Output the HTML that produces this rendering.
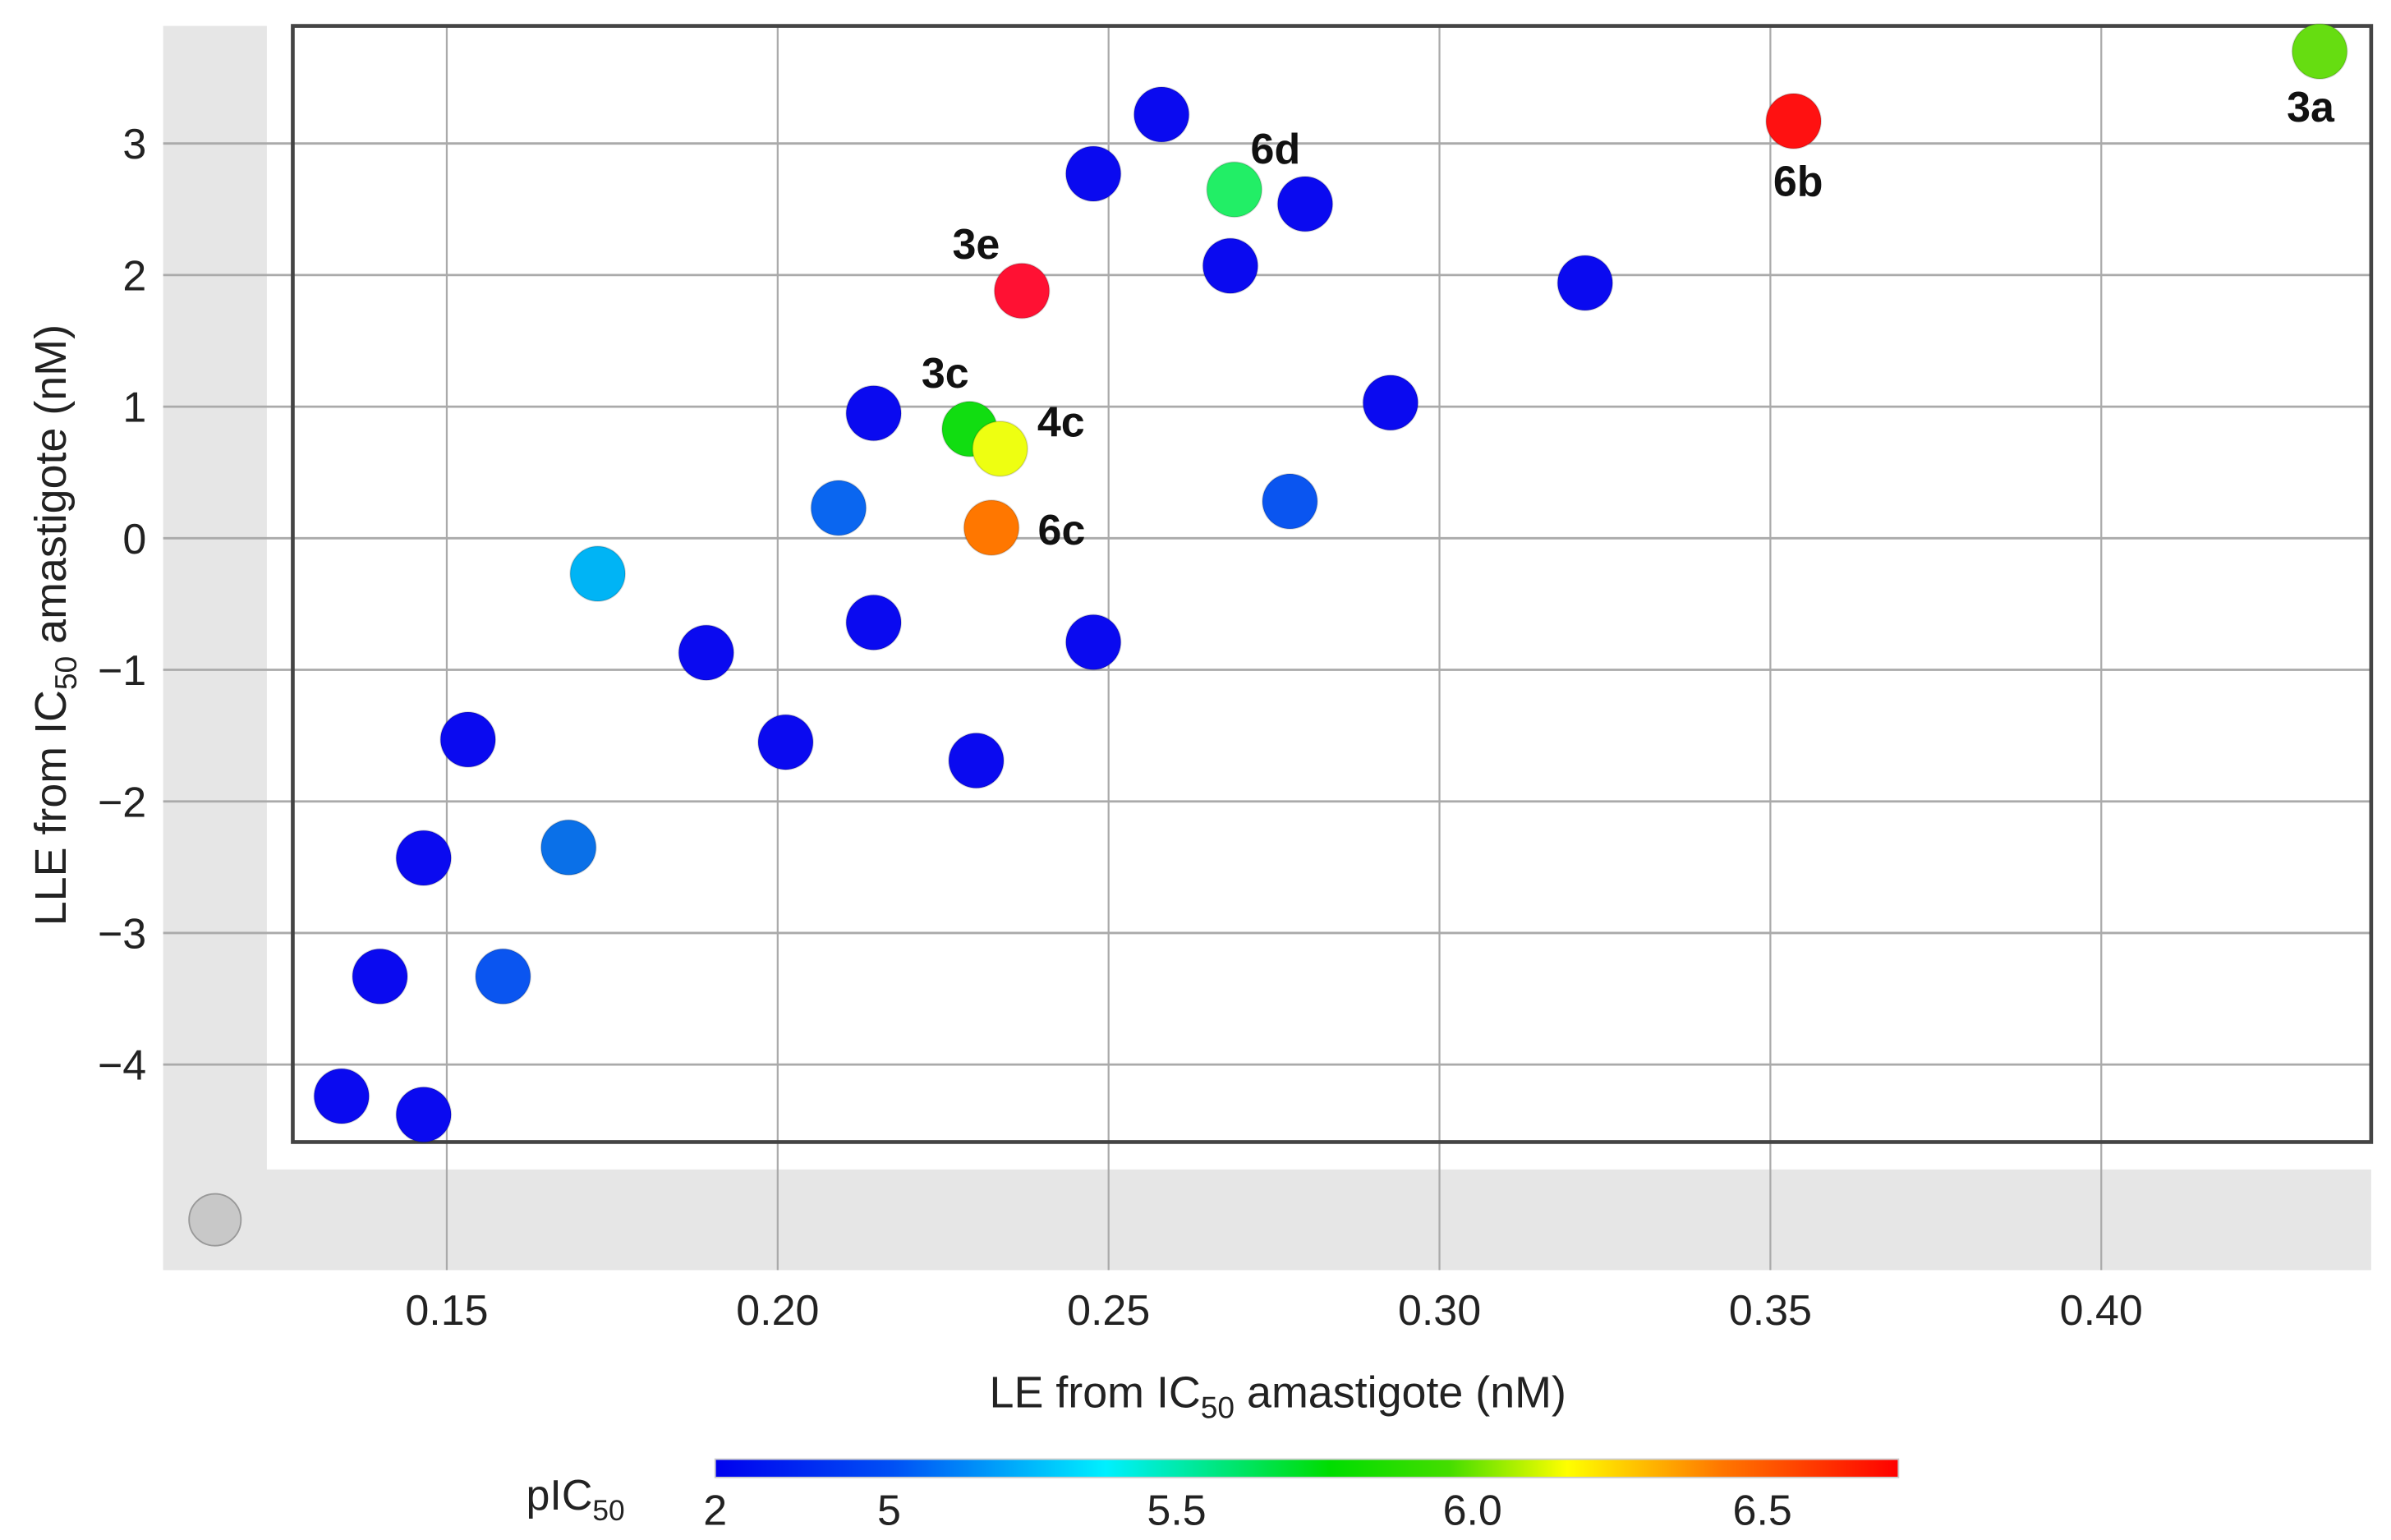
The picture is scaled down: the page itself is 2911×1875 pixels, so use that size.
<!DOCTYPE html>
<html><head><meta charset="utf-8"><style>
html,body{margin:0;padding:0;background:#fff}
svg{display:block;font-family:"Liberation Sans",sans-serif}
</style></head><body>
<svg id="chart" width="2911" height="1875" viewBox="0 0 1568 1010" preserveAspectRatio="none" xmlns="http://www.w3.org/2000/svg">
<defs>
<linearGradient id="cb" x1="0" x2="1" y1="0" y2="0">
<stop offset="0" stop-color="#0000ee"/><stop offset="0.15" stop-color="#0050f5"/><stop offset="0.33" stop-color="#00f0ff"/><stop offset="0.52" stop-color="#00dd00"/><stop offset="0.62" stop-color="#44dd00"/><stop offset="0.72" stop-color="#ffff00"/><stop offset="0.85" stop-color="#ff7700"/><stop offset="1" stop-color="#ff0000"/>
</linearGradient>
</defs>
<rect x="107" y="17" width="68" height="816" fill="#e6e6e6"/>
<rect x="107" y="767" width="1448" height="66" fill="#e6e6e6"/>
<rect x="192" y="17" width="1363" height="732" fill="#fff"/>
<g id="grid"></g>
<rect x="192" y="17" width="1363" height="732" fill="none" stroke="#444" stroke-width="2.5"/>
<circle cx="141" cy="800" r="17" fill="#c8c8c8" stroke="#999" stroke-width="1"/>
<g id="ticks"></g>
<g id="points"></g>
<g id="labels"></g>
<text x="838" y="923" font-size="29" text-anchor="middle" fill="#222">LE from IC<tspan font-size="20" dy="7">50</tspan><tspan dy="-7"> amastigote (nM)</tspan></text>
<text transform="translate(43,410) rotate(-90)" font-size="29" text-anchor="middle" fill="#222">LLE  from IC<tspan font-size="20" dy="7">50</tspan><tspan dy="-7"> amastigote (nM)</tspan></text>
<rect x="469" y="957" width="776" height="12" fill="url(#cb)" stroke="#ccc" stroke-width="1"/>
<text x="345" y="990" font-size="28" fill="#222">pIC<tspan font-size="19" dy="7">50</tspan></text>
<g id="cbticks"></g>
</svg>
<script>
const NS="http://www.w3.org/2000/svg";
const xTicks=[0.15,0.20,0.25,0.30,0.35,0.40];
const xTickLabels=["0.15","0.20","0.25","0.30","0.35","0.40"];
const yTicks=[3,2,1,0,-1,-2,-3,-4];
const yTickLabels=["3","2","1","0","\u22121","\u22122","\u22123","\u22124"];
const xVals=[0.433,0.3535,0.269,0.258,0.2477,0.2797,0.2684,0.322,0.2369,0.2145,0.229,0.2336,0.2926,0.2092,0.2774,0.2323,0.1728,0.2145,0.2477,0.1892,0.1532,0.2012,0.230,0.1684,0.1465,0.1399,0.1585,0.1341,0.1465];
const yVals=[3.70,3.17,2.65,3.22,2.77,2.54,2.07,1.94,1.88,0.95,0.83,0.68,1.03,0.23,0.28,0.08,-0.27,-0.64,-0.79,-0.87,-1.53,-1.55,-1.69,-2.35,-2.43,-3.33,-3.33,-4.24,-4.38];
const pointColors=["#66dd11","#ff1111","#22ee66","#0a0af0","#0a0af0","#0a0af0","#0a0af0","#0a0af0","#ff1133","#0a0af0","#11dd11","#eeff11","#0a0af0","#0a66f0","#0a55f0","#ff7700","#00b4f5","#0a0af0","#0a0af0","#0a0af0","#0a0af0","#0a0af0","#0a0af0","#0a70e8","#0a0af0","#0a0af0","#0a55f0","#0a0af0","#0a0af0"];
const pointLabels=["3a","6b","6d","","","","","","3e","","3c","4c","","","","6c","","","","","","","","","","","","",""];
const labelDx=[-6,3,27,0,0,0,0,0,-30,0,-16,40,0,0,0,46,0,0,0,0,0,0,0,0,0,0,0,0,0];
const labelDy=[36,39,-27,0,0,0,0,0,-31,0,-37,-18,0,0,0,1,0,0,0,0,0,0,0,0,0,0,0,0,0];
const cbVals=["2","5","5.5","6.0","6.5"];
const cbPos=[0,0.147,0.39,0.64,0.885];
const X=v=>293+(v-0.15)*4340;
const Y=v=>353-v*86.3;
function mk(tag,attrs,parent){const e=document.createElementNS(NS,tag);for(const k in attrs)e.setAttribute(k,attrs[k]);parent.appendChild(e);return e;}
const grid=document.getElementById('grid'),ticks=document.getElementById('ticks');
xTicks.forEach((t,i)=>{
  const l=mk('line',{x1:X(t),x2:X(t),y1:17,y2:833,stroke:'#aaa','stroke-width':1.2},grid);
  
  
  const tx=mk('text',{x:X(t),y:869,'font-size':28,'text-anchor':'middle',fill:'#222'},ticks);
  tx.textContent=xTickLabels[i];
  
  
});
yTicks.forEach((t,i)=>{
  const l=mk('line',{x1:107,x2:1555,y1:Y(t),y2:Y(t),stroke:'#aaa','stroke-width':1.5},grid);
  
  
  const tx=mk('text',{x:96,y:Y(t)+10,'font-size':28,'text-anchor':'end',fill:'#222'},ticks);
  tx.textContent=yTickLabels[i];
  
  
});
const pts=document.getElementById('points'),lab=document.getElementById('labels');
xVals.forEach((v,i)=>{
  const c=mk('circle',{cx:X(v),cy:Y(yVals[i]),r:18,fill:pointColors[i],stroke:'rgba(0,0,0,0.15)','stroke-width':1},pts);
  
  
  if(pointLabels[i]){
    const t=mk('text',{x:X(v)+labelDx[i],y:Y(yVals[i])+labelDy[i]+10,'font-size':28,'font-weight':'bold','text-anchor':'middle',fill:'#111'},lab);
    t.textContent=pointLabels[i];
    
    
  }
});
const cbt=document.getElementById('cbticks');
cbVals.forEach((s,i)=>{
  const t=mk('text',{x:469+cbPos[i]*776,y:1000,'font-size':28,'text-anchor':'middle',fill:'#222'},cbt);
  t.textContent=s;
  
  
});
</script>
</body></html>
